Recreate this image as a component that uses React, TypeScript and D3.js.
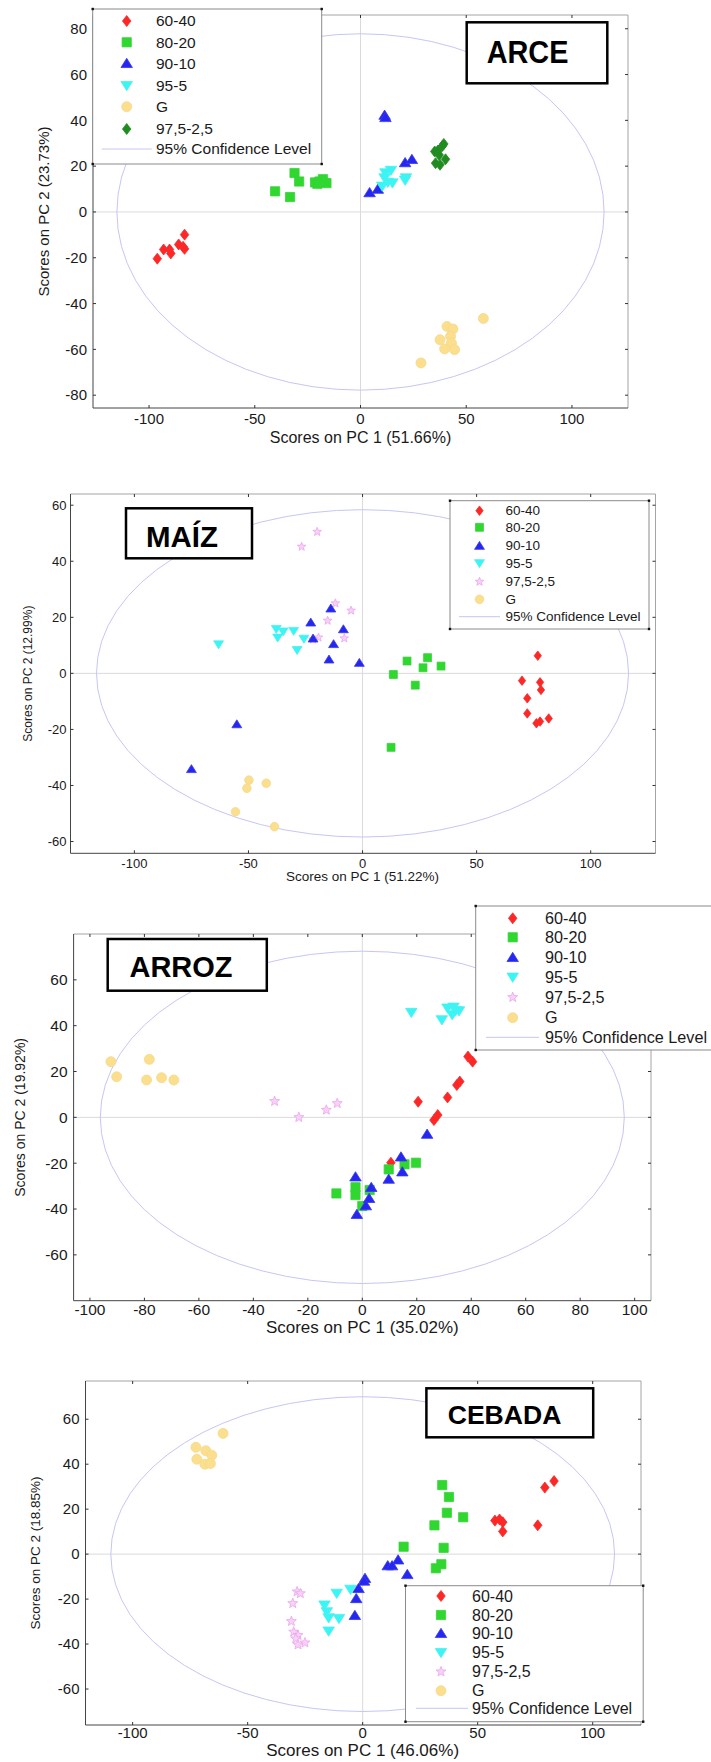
import * as d3 from "d3";

type Pt = [number, number];

// ---- ARCE ----
const arce6040: Pt[] = [[-96.1, -20.4], [-93.1, -16.4], [-90.3, -16.4], [-89.7, -18.1], [-86.0, -14.2], [-83.9, -15.2], [-83.2, -9.9], [-83.2, -16.1]];
const arce8020: Pt[] = [[-40.4, 9.0], [-33.3, 6.5], [-31.2, 17.0], [-29.0, 13.3], [-21.5, 12.9], [-19.4, 13.3], [-17.8, 14.3], [-16.1, 12.6], [-20.4, 12.3]];
const arce9010: Pt[] = [[11.4, 42.3], [11.8, 41.3], [4.3, 8.5], [8.2, 10.0], [21.1, 21.6], [24.3, 23.0]];
const arce955: Pt[] = [[11.8, 17.0], [14.4, 18.1], [11.4, 14.8], [12.9, 12.9], [10.3, 11.2], [15.1, 12.6], [21.5, 14.8], [21.1, 13.8]];
const arceG: Pt[] = [[58.1, -46.5], [40.9, -50.0], [43.7, -51.1], [42.6, -54.3], [37.6, -55.8], [43.0, -57.2], [39.8, -59.8], [44.5, -60.1], [28.6, -65.9]];
const arce975: Pt[] = [[35.1, 26.4], [36.6, 26.8], [38.7, 28.8], [39.4, 29.7], [37.2, 24.9], [35.5, 21.3], [37.6, 20.6], [40.2, 23.0]];

// ---- MAÍZ ----
const maiz6040: Pt[] = [[76.8, 6.3], [69.9, -2.6], [77.8, -3.2], [78.2, -5.9], [72.2, -8.9], [72.2, -14.3], [76.2, -17.8], [77.8, -17.2], [81.6, -16.1]];
const maiz8020: Pt[] = [[13.5, -0.4], [19.5, 4.4], [28.5, 5.6], [26.5, 2.0], [34.4, 2.6], [23.1, -4.2], [12.5, -26.4]];
const maiz9010: Pt[] = [[-13.9, 23.2], [-22.7, 18.2], [-8.4, 15.8], [-21.7, 12.5], [-12.7, 10.5], [-14.7, 5.0], [-1.4, 3.8], [-55.1, -18.1], [-75.0, -34.1]];
const maiz955: Pt[] = [[-63.1, 10.3], [-37.8, 15.8], [-34.8, 14.9], [-30.2, 15.1], [-37.2, 12.7], [-25.7, 12.3], [-28.7, 8.3]];
const maiz975: Pt[] = [[-26.7, 45.2], [-19.9, 50.5], [-11.9, 25.0], [-5.0, 22.4], [-15.3, 18.8], [-19.3, 12.8], [-8.0, 12.5], [-21.7, 12.1]];
const maizG: Pt[] = [[-49.8, -38.1], [-42.2, -39.2], [-50.7, -41.0], [-55.7, -49.4], [-38.6, -54.7]];

// ---- ARROZ ----
const arroz6040: Pt[] = [[38.8, 26.5], [40.5, 24.3], [35.8, 15.6], [34.7, 14.1], [31.3, 8.7], [20.5, 6.8], [27.7, 1.0], [26.3, -1.2], [10.5, -19.8]];
const arroz8020: Pt[] = [[19.7, -19.8], [15.5, -20.5], [9.7, -22.7], [-9.5, -33.2], [-2.5, -30.5], [-2.5, -33.9], [2.7, -31.7], [0.0, -38.7]];
const arroz9010: Pt[] = [[23.8, -7.3], [14.2, -17.2], [14.7, -23.7], [9.7, -26.9], [-2.5, -25.9], [3.3, -30.5], [2.5, -35.3], [1.3, -38.5], [-2.0, -42.3]];
const arroz955: Pt[] = [[18.0, 45.7], [29.2, 42.5], [31.3, 47.6], [33.5, 48.0], [34.3, 46.5], [33.0, 44.7], [35.5, 46.4]];
const arroz975: Pt[] = [[-32.2, 7.0], [-23.3, 0.0], [-13.2, 3.2], [-9.2, 6.1]];
const arrozG: Pt[] = [[-92.3, 24.3], [-78.2, 25.3], [-90.2, 17.7], [-79.2, 16.3], [-73.7, 17.3], [-69.2, 16.3]];

// ---- CEBADA ----
const cebada6040: Pt[] = [[83.2, 32.5], [79.2, 29.6], [57.5, 14.9], [59.5, 15.4], [60.9, 14.2], [60.9, 10.1], [76.1, 12.8]];
const cebada8020: Pt[] = [[34.6, 30.7], [37.5, 25.4], [36.6, 18.4], [43.7, 16.4], [31.2, 12.8], [17.8, 3.3], [35.2, 2.8], [34.2, -4.5], [31.8, -6.3]];
const cebada9010: Pt[] = [[15.4, -2.5], [10.9, -5.1], [12.8, -5.1], [19.4, -9.0], [1.0, -10.7], [0.6, -11.9], [-1.8, -15.2], [-2.8, -19.7], [-3.4, -27.2]];
const cebada955: Pt[] = [[-5.3, -15.7], [-11.3, -17.5], [-16.6, -22.7], [-15.6, -25.7], [-14.8, -28.4], [-10.3, -28.7], [-14.8, -34.3]];
const cebada975: Pt[] = [[-28.5, -16.7], [-27.1, -17.5], [-30.4, -21.9], [-31.0, -29.9], [-30.0, -34.6], [-28.1, -36.1], [-29.1, -37.6], [-25.1, -39.4], [-28.1, -40.3]];
const cebadaG: Pt[] = [[-60.7, 53.7], [-72.5, 47.5], [-68.2, 46.0], [-65.6, 44.0], [-72.1, 42.2], [-68.6, 40.0], [-66.2, 40.3]];

// confidence ellipse radii (PC1, PC2)
const arceEllipse: Pt = [115.2, 77.8];
const maizEllipse: Pt = [116.6, 58.4];
const arrozEllipse: Pt = [96.2, 72.5];
const cebadaEllipse: Pt = [109.5, 70];

const ticks100by50 = [-100, -50, 0, 50, 100];
const ticks100by20 = [-100, -80, -60, -40, -20, 0, 20, 40, 60, 80, 100];
const ticks80 = [-80, -60, -40, -20, 0, 20, 40, 60, 80];
const ticks60 = [-60, -40, -20, 0, 20, 40, 60];

const CONF = "95% Confidence Level";
const FONT = "'Liberation Sans', Arial, Helvetica, sans-serif";

const diamond = {
  draw(ctx: any, r: number) {
    const h = r * 1.1, w = r * 0.85;
    ctx.moveTo(0, -h); ctx.lineTo(w, 0); ctx.lineTo(0, h); ctx.lineTo(-w, 0); ctx.closePath();
  },
};
const square = {
  draw(ctx: any, r: number) {
    const s = r * 0.92;
    ctx.rect(-s, -s, 2 * s, 2 * s);
  },
};
const triUp = {
  draw(ctx: any, r: number) {
    ctx.moveTo(0, -r); ctx.lineTo(r * 1.15, r * 0.85); ctx.lineTo(-r * 1.15, r * 0.85); ctx.closePath();
  },
};
const triDown = {
  draw(ctx: any, r: number) {
    ctx.moveTo(0, r); ctx.lineTo(r * 1.15, -r * 0.85); ctx.lineTo(-r * 1.15, -r * 0.85); ctx.closePath();
  },
};
const circle = {
  draw(ctx: any, r: number) {
    ctx.moveTo(r, 0); ctx.arc(0, 0, r, 0, 2 * Math.PI);
  },
};
const star = {
  draw(ctx: any, r: number) {
    for (let i = 0; i < 10; i++) {
      const a = -Math.PI / 2 + (i * Math.PI) / 5;
      const rr = i % 2 === 0 ? r * 1.05 : r * 0.45;
      if (i === 0) ctx.moveTo(rr * Math.cos(a), rr * Math.sin(a));
      else ctx.lineTo(rr * Math.cos(a), rr * Math.sin(a));
    }
    ctx.closePath();
  },
};

const STYLE: Record<string, { type: any; fill: string; stroke: string }> = {
  "60-40": { type: diamond, fill: "#ff2626", stroke: "#f03030" },
  "80-20": { type: square, fill: "#2fd82f", stroke: "#3ad23a" },
  "90-10": { type: triUp, fill: "#2626f2", stroke: "#3a3ae8" },
  "95-5": { type: triDown, fill: "#38f6f6", stroke: "#50eeee" },
  G: { type: circle, fill: "#fbdf8c", stroke: "#f4d890" },
  "97,5-2,5d": { type: diamond, fill: "#1f8c1f", stroke: "#2a8a2a" },
  "97,5-2,5": { type: star, fill: "#f8d0f8", stroke: "#eaa6ea" },
};

const panels = [
  {
    left: 93, right: 628, top: 15, bottom: 408,
    xDomain: [-126.5, 126.5], yDomain: [-85.6, 86],
    xTicks: ticks100by50, yTicks: ticks80,
    tickFont: 15, yTickGap: 6, xTickY: 423.5,
    yLabel: "Scores on PC 2 (23.73%)", yLabelX: 44, yLabelFont: 15,
    xLabel: "Scores on PC 1 (51.66%)", xLabelY: 443, xLabelFont: 16,
    ellipse: arceEllipse, r: 5,
    series: [
      { key: "60-40", data: arce6040 }, { key: "80-20", data: arce8020 },
      { key: "90-10", data: arce9010 }, { key: "95-5", data: arce955 },
      { key: "97,5-2,5d", data: arce975 }, { key: "G", data: arceG },
    ],
    legendOrder: ["60-40", "80-20", "90-10", "95-5", "G", "97,5-2,5d"],
    legend: { x0: 92.7, x1: 321.7, y0: 9, y1: 164, rows: [21, 42.3, 63.3, 85.7, 106.7, 129, 149], mx: 126.7, tx: 156, l0: 101.7, l1: 151.7, font: 15.5, r: 5 },
    title: { text: "ARCE", x0: 466.7, x1: 607.3, y0: 22.3, y1: 83.3, tx: 486.7, tw: 81.7, ty: 63.3, font: 31.7 },
  },
  {
    left: 70.5, right: 655.5, top: 494, bottom: 853.3,
    xDomain: [-128, 128.4], yDomain: [-64.2, 64],
    xTicks: ticks100by50, yTicks: ticks60,
    tickFont: 13, yTickGap: 4, xTickY: 868,
    yLabel: "Scores on PC 2 (12.99%)", yLabelX: 28, yLabelFont: 12,
    xLabel: "Scores on PC 1 (51.22%)", xLabelY: 881, xLabelFont: 13.5,
    ellipse: maizEllipse, r: 4.3,
    series: [
      { key: "97,5-2,5", data: maiz975 }, { key: "G", data: maizG },
      { key: "60-40", data: maiz6040 }, { key: "80-20", data: maiz8020 },
      { key: "95-5", data: maiz955 }, { key: "90-10", data: maiz9010 },
    ],
    legendOrder: ["60-40", "80-20", "90-10", "95-5", "97,5-2,5", "G"],
    legend: { x0: 450, x1: 649, y0: 500.7, y1: 629, rows: [510.7, 527.3, 545.7, 563.3, 581.7, 599.3, 616.7], mx: 479.5, tx: 505.5, l0: 459, l1: 500, font: 13.5, r: 4.3 },
    title: { text: "MAÍZ", x0: 126, x1: 252, y0: 508.3, y1: 558.3, tx: 146, tw: 72, ty: 546.7, font: 30 },
  },
  {
    left: 73.6, right: 651, top: 934, bottom: 1300.7,
    xDomain: [-106, 106], yDomain: [-80, 80],
    xTicks: ticks100by20, yTicks: ticks60,
    tickFont: 15.5, yTickGap: 6, xTickY: 1315,
    yLabel: "Scores on PC 2 (19.92%)", yLabelX: 20.5, yLabelFont: 14,
    xLabel: "Scores on PC 1 (35.02%)", xLabelY: 1333, xLabelFont: 17,
    ellipse: arrozEllipse, r: 5,
    series: [
      { key: "G", data: arrozG }, { key: "97,5-2,5", data: arroz975 },
      { key: "95-5", data: arroz955 }, { key: "60-40", data: arroz6040 },
      { key: "80-20", data: arroz8020 }, { key: "90-10", data: arroz9010 },
    ],
    legendOrder: ["60-40", "80-20", "90-10", "95-5", "97,5-2,5", "G"],
    legend: { x0: 475.7, x1: 716, y0: 906, y1: 1050, rows: [918.3, 937.3, 957.3, 977.3, 997.3, 1017.7, 1037.3], mx: 512.7, tx: 545, l0: 486, l1: 539, font: 16.2, r: 5 },
    title: { text: "ARROZ", x0: 107.7, x1: 266.8, y0: 939, y1: 990.7, tx: 129.5, tw: 103, ty: 977.3, font: 29 },
  },
  {
    left: 85.5, right: 641, top: 1381, bottom: 1725,
    xDomain: [-120.5, 121], yDomain: [-76, 77],
    xTicks: ticks100by50, yTicks: ticks60,
    tickFont: 15, yTickGap: 6, xTickY: 1738,
    yLabel: "Scores on PC 2 (18.85%)", yLabelX: 35.5, yLabelFont: 13.5,
    xLabel: "Scores on PC 1 (46.06%)", xLabelY: 1756, xLabelFont: 17,
    ellipse: cebadaEllipse, r: 5,
    series: [
      { key: "G", data: cebadaG }, { key: "97,5-2,5", data: cebada975 },
      { key: "95-5", data: cebada955 }, { key: "90-10", data: cebada9010 },
      { key: "80-20", data: cebada8020 }, { key: "60-40", data: cebada6040 },
    ],
    legendOrder: ["60-40", "80-20", "90-10", "95-5", "97,5-2,5", "G"],
    legend: { x0: 405.5, x1: 643.2, y0: 1585.7, y1: 1721.7, rows: [1596, 1615, 1633.3, 1652.7, 1671.7, 1690.7, 1708.3], mx: 441, tx: 472, l0: 416, l1: 468, font: 16, r: 5 },
    title: { text: "CEBADA", x0: 426.4, x1: 593.2, y0: 1388.3, y1: 1437.3, tx: 447.7, tw: 113.7, ty: 1424, font: 26.5 },
  },
];

const sym = (type: any, r: number) => d3.symbol().type(type).size(r)() as string;

const labelOf = (key: string) => (key === "97,5-2,5d" ? "97,5-2,5" : key);

function Panel({ p }: { p: any }) {
  const x = d3.scaleLinear().domain(p.xDomain).range([p.left, p.right]);
  const y = d3.scaleLinear().domain(p.yDomain).range([p.bottom, p.top]);
  const lg = p.legend;
  const t = p.title;
  const ellipseColor = "#c6c6f4";
  const tickLen = 3;

  return (
    <g fontFamily={FONT}>
      <line x1={x(0)} x2={x(0)} y1={p.top} y2={p.bottom} stroke="#dadada" />
      <line x1={p.left} x2={p.right} y1={y(0)} y2={y(0)} stroke="#dadada" />
      <ellipse
        cx={x(0)}
        cy={y(0)}
        rx={x(p.ellipse[0]) - x(0)}
        ry={y(0) - y(p.ellipse[1])}
        fill="none"
        stroke={ellipseColor}
        strokeWidth={1}
      />
      {p.series.map((s: any) => {
        const st = STYLE[s.key];
        const d = sym(st.type, p.r);
        return (
          <g key={s.key}>
            {s.data.map((pt: Pt, i: number) => (
              <path
                key={i}
                d={d}
                transform={`translate(${x(pt[0])},${y(pt[1])})`}
                fill={st.fill}
                stroke={st.stroke}
                strokeWidth={0.8}
              />
            ))}
          </g>
        );
      })}

      {/* frame */}
      <line x1={p.left} x2={p.right} y1={p.top} y2={p.top} stroke="#a4a4a4" />
      <line x1={p.right} x2={p.right} y1={p.top} y2={p.bottom} stroke="#a4a4a4" />
      <line x1={p.left} x2={p.left} y1={p.top} y2={p.bottom} stroke="#444" />
      <line x1={p.left} x2={p.right} y1={p.bottom} y2={p.bottom} stroke="#444" />

      {p.xTicks.map((v: number) => (
        <g key={"x" + v}>
          <line x1={x(v)} x2={x(v)} y1={p.bottom} y2={p.bottom - tickLen} stroke="#333" />
          <line x1={x(v)} x2={x(v)} y1={p.top} y2={p.top + tickLen} stroke="#333" />
          <text x={x(v)} y={p.xTickY} textAnchor="middle" fontSize={p.tickFont} fill="#1a1a1a">
            {v}
          </text>
        </g>
      ))}
      {p.yTicks.map((v: number) => (
        <g key={"y" + v}>
          <line x1={p.left} x2={p.left + tickLen} y1={y(v)} y2={y(v)} stroke="#333" />
          <line x1={p.right} x2={p.right - tickLen} y1={y(v)} y2={y(v)} stroke="#333" />
          <text
            x={p.left - p.yTickGap}
            y={y(v)}
            dy="0.35em"
            textAnchor="end"
            fontSize={p.tickFont}
            fill="#1a1a1a"
          >
            {v}
          </text>
        </g>
      ))}

      <text
        transform={`translate(${p.yLabelX},${(p.top + p.bottom) / 2}) rotate(-90)`}
        textAnchor="middle"
        dy="0.35em"
        fontSize={p.yLabelFont}
        fill="#1a1a1a"
      >
        {p.yLabel}
      </text>
      <text x={x(0)} y={p.xLabelY} textAnchor="middle" fontSize={p.xLabelFont} fill="#1a1a1a">
        {p.xLabel}
      </text>

      {/* title box */}
      <rect x={t.x0} y={t.y0} width={t.x1 - t.x0} height={t.y1 - t.y0} fill="#fff" stroke="#000" strokeWidth={2.5} />
      <text
        x={t.tx}
        y={t.ty}
        fontSize={t.font}
        fontWeight="bold"
        textLength={t.tw}
        lengthAdjust="spacingAndGlyphs"
        fill="#000"
      >
        {t.text}
      </text>

      {/* legend */}
      <rect x={lg.x0} y={lg.y0} width={lg.x1 - lg.x0} height={lg.y1 - lg.y0} fill="#fff" stroke="#8a8a8a" strokeWidth={1} />
      {[
        [lg.x0, lg.y0],
        [lg.x1, lg.y0],
        [lg.x0, lg.y1],
        [lg.x1, lg.y1],
      ].map(([cx, cy], i) => (
        <rect key={i} x={cx - 1.2} y={cy - 1.2} width={2.4} height={2.4} fill="#111" />
      ))}
      {p.legendOrder.map((key: string, i: number) => {
        const st = STYLE[key];
        return (
          <g key={key}>
            <path
              d={sym(st.type, lg.r)}
              transform={`translate(${lg.mx},${lg.rows[i]})`}
              fill={st.fill}
              stroke={st.stroke}
              strokeWidth={0.8}
            />
            <text x={lg.tx} y={lg.rows[i]} dy="0.35em" fontSize={lg.font} fill="#1a1a1a">
              {labelOf(key)}
            </text>
          </g>
        );
      })}
      <line x1={lg.l0} x2={lg.l1} y1={lg.rows[6]} y2={lg.rows[6]} stroke={ellipseColor} />
      <text x={lg.tx} y={lg.rows[6]} dy="0.35em" fontSize={lg.font} fill="#1a1a1a">
        {CONF}
      </text>
    </g>
  );
}

export default function App() {
  return (
    <svg
      width={711}
      height={1762}
      style={{ position: "absolute", left: 0, top: 0, background: "#fff" }}
    >
      <rect width={711} height={1762} fill="#fff" />
      {panels.map((p, i) => (
        <Panel key={i} p={p} />
      ))}
    </svg>
  );
}
